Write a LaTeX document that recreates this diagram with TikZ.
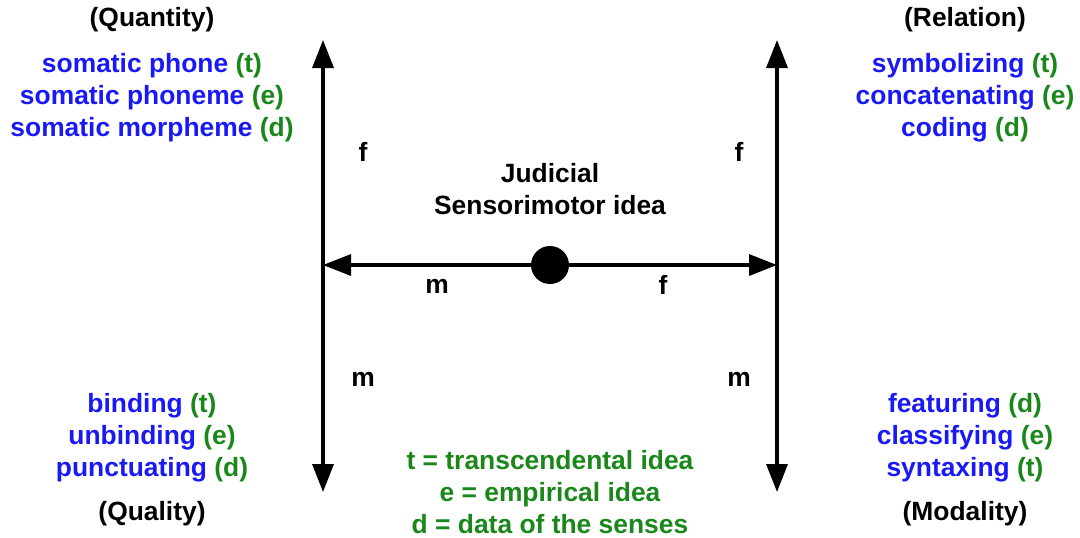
\documentclass[tikz,border=0pt]{standalone}
\usepackage{fontspec}
\setmainfont{Liberation Sans}
\usetikzlibrary{arrows.meta}
\definecolor{catblue}{RGB}{25,25,245}
\definecolor{catgreen}{RGB}{25,135,25}
\newcommand{\kind}[1]{\textcolor{catgreen}{#1}}

\begin{document}
\begin{tikzpicture}[x=0.5pt, y=-0.5pt, >={Triangle[length=14pt, width=10.5pt]},
    txt/.style={font=\fontsize{13.2}{16}\selectfont\bfseries, align=center, inner sep=0pt},
    cat/.style={txt, text=catblue},
    axis/.style={line width=1.7pt}]
  \useasboundingbox (0,0) rectangle (1080,537);
  % axes
  \coordinate (lt) at (323,40);
  \coordinate (lb) at (323,492);
  \coordinate (rt) at (777,40);
  \coordinate (rb) at (777,492);
  \coordinate (lm) at (323,265);
  \coordinate (rm) at (777,265);
  \node[circle, fill, inner sep=0pt, minimum size=19pt] (idea) at (550,265) {};
  \draw[axis, <->] (lb) -- (lt);
  \draw[axis, <->] (rb) -- (rt);
  \draw[axis, ->] (idea) -- (lm);
  \draw[axis, ->] (idea) -- (rm);
  \node[txt] (title) at (550,189) {Judicial\\Sensorimotor idea};
  % f / m labels
  \node[txt] (flt) at (363,152) {f};
  \node[txt] (frt) at (739,152) {f};
  \node[txt] (mlb) at (363,379) {m};
  \node[txt] (mrb) at (739,379) {m};
  \node[txt] (mh) at (437,286) {m};
  \node[txt] (fh) at (663,285) {f};
  % categories
  \node[txt] (quantity) at (152,20) {(Quantity)};
  \node[cat] (quantl) at (152,98) {somatic phone \kind{(t)}\\somatic phoneme \kind{(e)}\\somatic morpheme \kind{(d)}};
  \node[txt] (relation) at (965,20) {(Relation)};
  \node[cat] (relatl) at (965,98) {symbolizing \kind{(t)}\\concatenating \kind{(e)}\\coding \kind{(d)}};
  \node[cat] (qualil) at (152,438) {binding \kind{(t)}\\unbinding \kind{(e)}\\punctuating \kind{(d)}};
  \node[txt] (quality) at (152,514) {(Quality)};
  \node[cat] (modall) at (965,438) {featuring \kind{(d)}\\classifying \kind{(e)}\\syntaxing \kind{(t)}};
  \node[txt] (modality) at (965,514) {(Modality)};
  % legend
  \node[txt, text=catgreen] (legend) at (550,492) {t = transcendental idea\\e = empirical idea\\d = data of the senses};
\end{tikzpicture}
\end{document}
